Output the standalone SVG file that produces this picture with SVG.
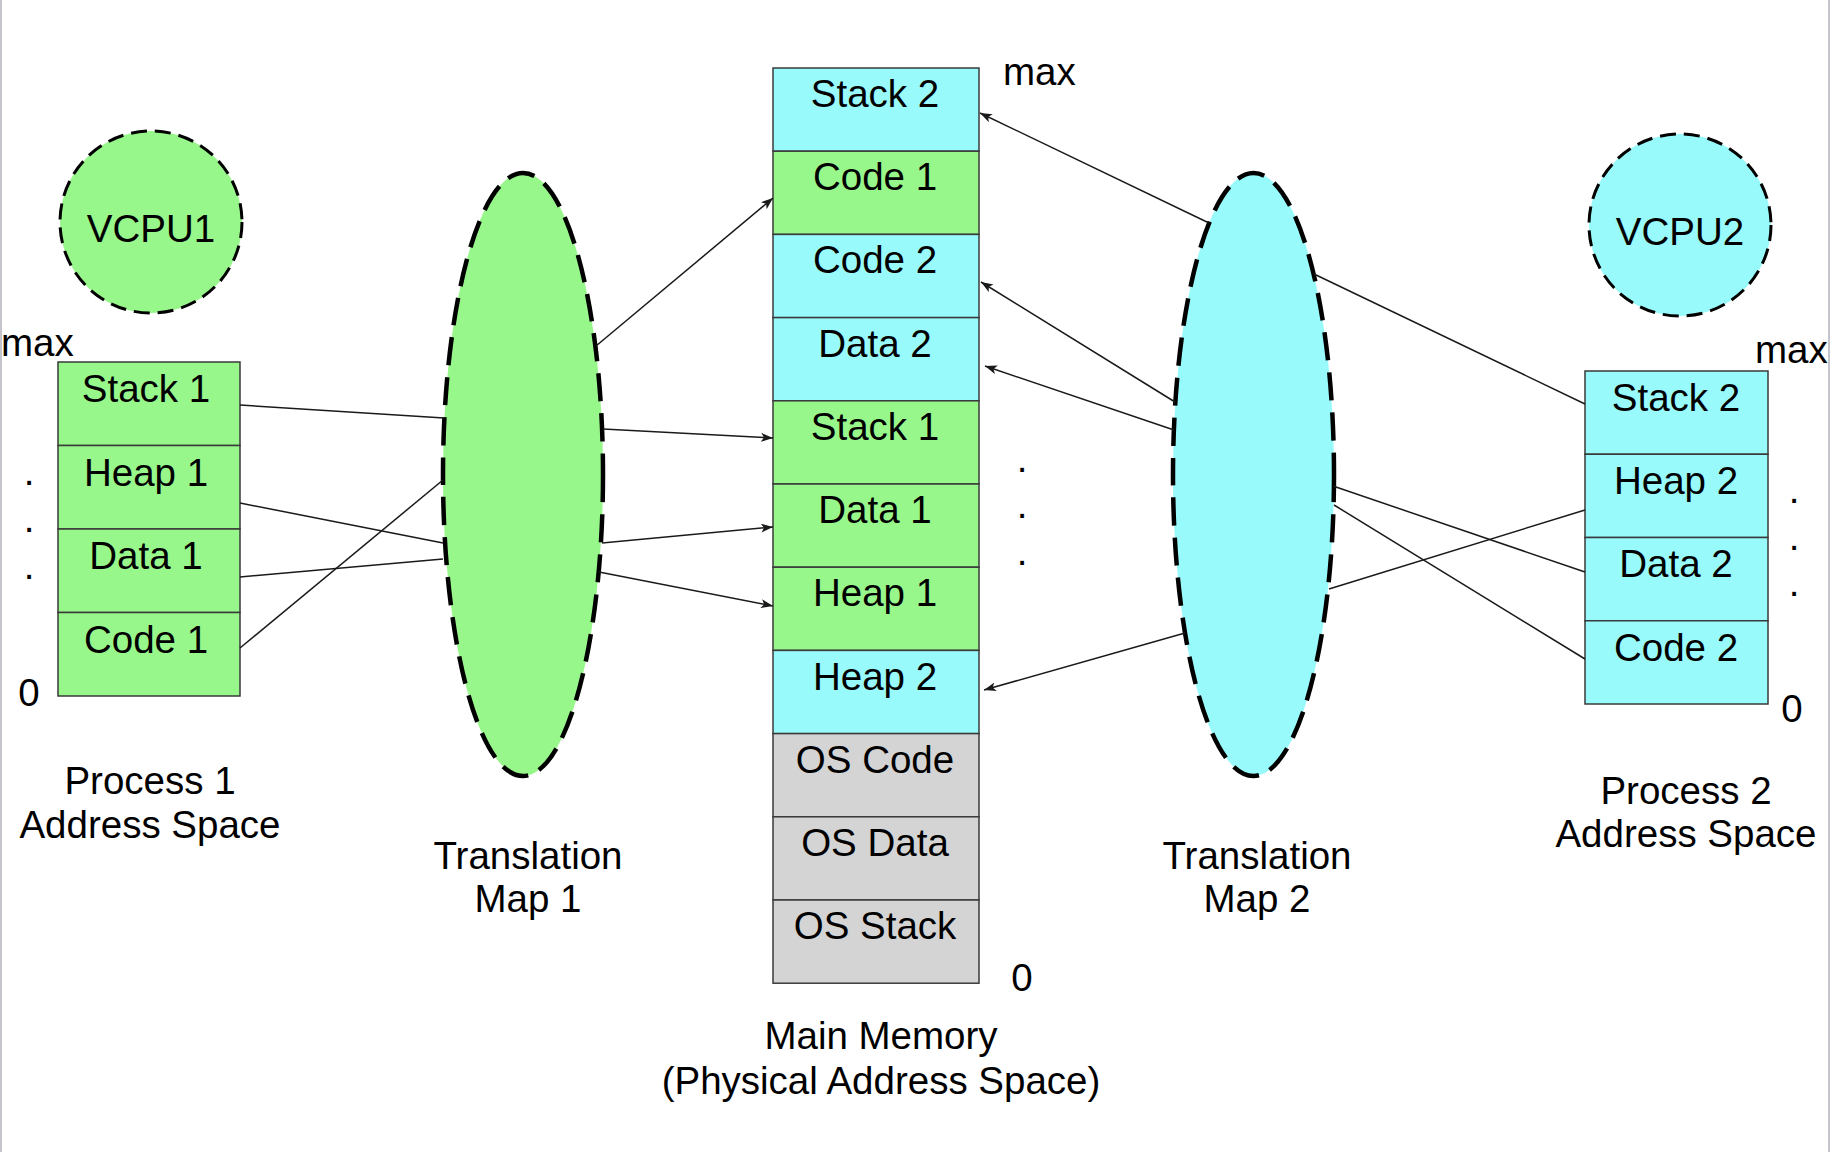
<svg xmlns="http://www.w3.org/2000/svg" width="1830" height="1152" viewBox="0 0 1830 1152">
<defs>
<style>
text{font-family:"Liberation Sans",Arial,sans-serif;font-size:38.5px;fill:#000;}
.c{text-anchor:middle;}
.g{fill:#98F78B;stroke:#3a3a3a;stroke-width:1.5;}
.b{fill:#99FAFB;stroke:#3a3a3a;stroke-width:1.5;}
.o{fill:#D4D4D4;stroke:#3a3a3a;stroke-width:1.5;}
.ell{stroke:#000;stroke-width:4.5;stroke-dasharray:28 12;}
.cpu{stroke:#000;stroke-width:3;stroke-dasharray:16 8;}
.ln{stroke:#1a1a1a;stroke-width:1.5;fill:none;}
.ar{marker-end:url(#ah);}
</style>
<marker id="ah" markerUnits="userSpaceOnUse" markerWidth="14" markerHeight="10" refX="12" refY="4.5" orient="auto">
<path d="M0,0 L12,4.5 L0,9 L3,4.5 z" fill="#1a1a1a"/>
</marker>
</defs>
<rect x="0" y="0" width="1830" height="1152" fill="#fff"/>
<line x1="1" y1="0" x2="1" y2="1152" stroke="#c4c4cc" stroke-width="2"/>
<line x1="1829" y1="0" x2="1829" y2="1152" stroke="#c4c4cc" stroke-width="2"/>

<g id="vcpu1">
<circle cx="151" cy="222" r="91" fill="#98F78B" class="cpu"/>
<text x="151" y="242" class="c">VCPU1</text>
</g>
<g id="vcpu2">
<circle cx="1680" cy="225" r="91" fill="#99FAFB" class="cpu"/>
<text x="1680" y="245" class="c">VCPU2</text>
</g>

<g id="process1">
<rect x="58" y="362" width="182" height="83.5" class="g"/>
<rect x="58" y="445.5" width="182" height="83.5" class="g"/>
<rect x="58" y="529" width="182" height="83.5" class="g"/>
<rect x="58" y="612.5" width="182" height="83.5" class="g"/>
<text x="146" y="402" class="c">Stack 1</text>
<text x="146" y="486" class="c">Heap 1</text>
<text x="146" y="569" class="c">Data 1</text>
<text x="146" y="653" class="c">Code 1</text>
<text x="1" y="356">max</text>
<text x="29" y="706" class="c">0</text>
<text x="29" y="485" class="c">.</text>
<text x="29" y="532" class="c">.</text>
<text x="29" y="579" class="c">.</text>
<text x="150" y="794" class="c">Process 1</text>
<text x="150" y="838" class="c">Address Space</text>
</g>

<g id="map1">
<ellipse cx="523" cy="474.5" rx="80" ry="301.5" fill="#98F78B" class="ell"/>
<text x="528" y="869" class="c">Translation</text>
<text x="528" y="912" class="c">Map 1</text>
</g>

<g id="memory">
<rect x="773" y="68" width="206" height="83.2" class="b"/>
<rect x="773" y="151.2" width="206" height="83.2" class="g"/>
<rect x="773" y="234.4" width="206" height="83.2" class="b"/>
<rect x="773" y="317.6" width="206" height="83.2" class="b"/>
<rect x="773" y="400.8" width="206" height="83.2" class="g"/>
<rect x="773" y="484" width="206" height="83.2" class="g"/>
<rect x="773" y="567.2" width="206" height="83.2" class="g"/>
<rect x="773" y="650.4" width="206" height="83.2" class="b"/>
<rect x="773" y="733.6" width="206" height="83.2" class="o"/>
<rect x="773" y="816.8" width="206" height="83.2" class="o"/>
<rect x="773" y="900" width="206" height="83.2" class="o"/>
<text x="875" y="107" class="c">Stack 2</text>
<text x="875" y="190" class="c">Code 1</text>
<text x="875" y="273" class="c">Code 2</text>
<text x="875" y="357" class="c">Data 2</text>
<text x="875" y="440" class="c">Stack 1</text>
<text x="875" y="523" class="c">Data 1</text>
<text x="875" y="606" class="c">Heap 1</text>
<text x="875" y="690" class="c">Heap 2</text>
<text x="875" y="773" class="c">OS Code</text>
<text x="875" y="856" class="c">OS Data</text>
<text x="875" y="939" class="c">OS Stack</text>
<text x="1003" y="85">max</text>
<text x="1022" y="991" class="c">0</text>
<text x="1022" y="472" class="c">.</text>
<text x="1022" y="518" class="c">.</text>
<text x="1022" y="565" class="c">.</text>
<text x="881" y="1049" class="c">Main Memory</text>
<text x="881" y="1094" class="c">(Physical Address Space)</text>
</g>

<g id="map2">
<ellipse cx="1253.5" cy="474.5" rx="80.5" ry="301.5" fill="#99FAFB" class="ell"/>
<text x="1257" y="869" class="c">Translation</text>
<text x="1257" y="912" class="c">Map 2</text>
</g>

<g id="process2">
<rect x="1585" y="371" width="183" height="83.25" class="b"/>
<rect x="1585" y="454.25" width="183" height="83.25" class="b"/>
<rect x="1585" y="537.5" width="183" height="83.25" class="b"/>
<rect x="1585" y="620.75" width="183" height="83.25" class="b"/>
<text x="1676" y="411" class="c">Stack 2</text>
<text x="1676" y="494" class="c">Heap 2</text>
<text x="1676" y="577" class="c">Data 2</text>
<text x="1676" y="661" class="c">Code 2</text>
<text x="1755" y="363">max</text>
<text x="1792" y="722" class="c">0</text>
<text x="1794" y="503" class="c">.</text>
<text x="1794" y="550" class="c">.</text>
<text x="1794" y="596" class="c">.</text>
<text x="1686" y="804" class="c">Process 2</text>
<text x="1686" y="847" class="c">Address Space</text>
</g>

<g id="connectors">
<line class="ln" x1="240" y1="405" x2="444" y2="418"/>
<line class="ln" x1="240" y1="503" x2="443" y2="543"/>
<line class="ln" x1="240" y1="577" x2="443" y2="559"/>
<line class="ln" x1="240" y1="648" x2="443" y2="480"/>
<line class="ln ar" x1="596" y1="346" x2="773" y2="198"/>
<line class="ln ar" x1="603" y1="429" x2="773" y2="438"/>
<line class="ln ar" x1="602" y1="543" x2="773" y2="527"/>
<line class="ln ar" x1="599" y1="572" x2="773" y2="606"/>
<line class="ln ar" x1="1209" y1="223" x2="980" y2="113"/>
<line class="ln ar" x1="1175" y1="402" x2="981" y2="282"/>
<line class="ln ar" x1="1174" y1="430" x2="985" y2="366"/>
<line class="ln ar" x1="1185" y1="633" x2="984" y2="690"/>
<line class="ln" x1="1585" y1="404" x2="1314" y2="274"/>
<line class="ln" x1="1585" y1="510" x2="1329" y2="589"/>
<line class="ln" x1="1585" y1="572" x2="1333" y2="486"/>
<line class="ln" x1="1585" y1="659" x2="1334" y2="505"/>
</g>
</svg>
